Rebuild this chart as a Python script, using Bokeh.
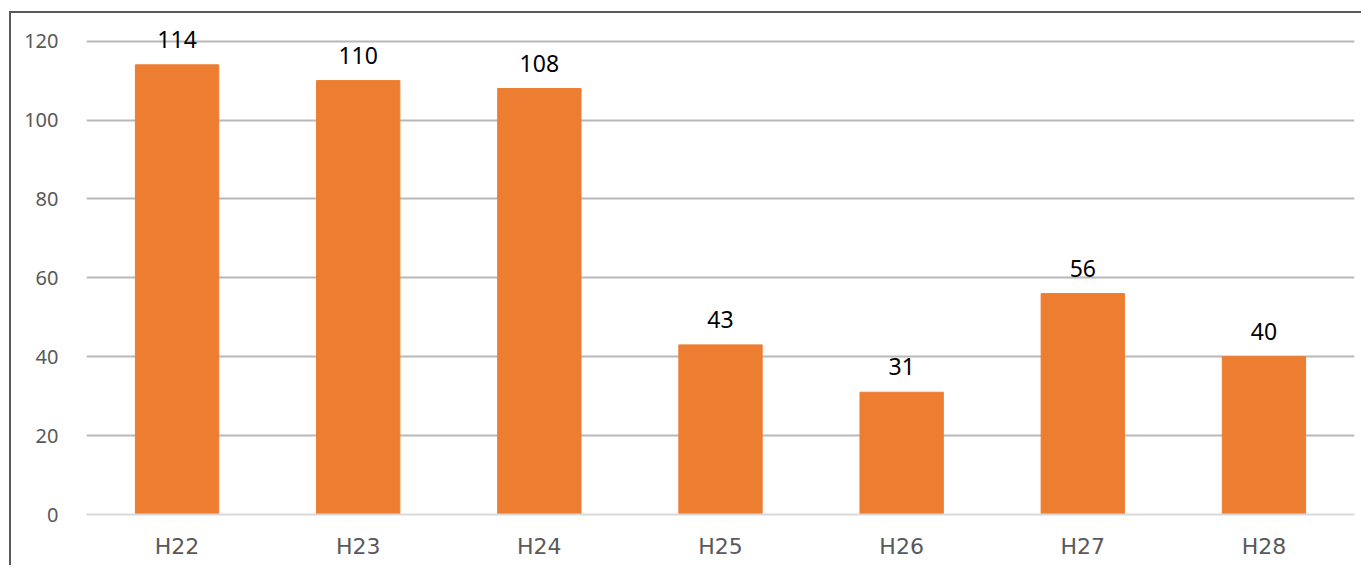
from bokeh.plotting import figure
from bokeh.models import ColumnDataSource, FixedTicker, Range1d, LabelSet
from bokeh.core.properties import value
from bokeh.embed import file_html
from bokeh.resources import INLINE

categories = ["H22", "H23", "H24", "H25", "H26", "H27", "H28"]
values = [114, 110, 108, 43, 31, 56, 40]
y_ticks = [0, 20, 40, 60, 80, 100, 120]

source = ColumnDataSource(data=dict(cat=categories, val=values, lbl=[str(v) for v in values]))

p = figure(x_range=categories, y_range=Range1d(0, 126), width=1352, height=554,
           output_backend="svg", toolbar_location=None,
           min_border_left=75, min_border_right=9, min_border_top=4, min_border_bottom=53)
p.styles = {"border-left": "2px solid #595959", "border-top": "2px solid #595959",
            "margin-left": "9px", "margin-top": "11px"}
p.outline_line_color = None
p.x_range.range_padding = 0

p.vbar(x="cat", top="val", width=0.46, source=source, color="#ED7D31")

labels = LabelSet(x="cat", y="val", text="lbl", source=source, text_align="center",
                  text_baseline="bottom", y_offset=17, text_font=value("Noto Sans"),
                  text_font_size=value("23px"), text_color="#000000")
p.add_layout(labels)

p.xgrid.grid_line_color = None
p.ygrid.ticker = FixedTicker(ticks=y_ticks[1:])
p.ygrid.grid_line_color = "#b8b8b8"
p.ygrid.grid_line_width = 2

p.yaxis.ticker = FixedTicker(ticks=y_ticks)
p.yaxis.axis_line_color = None
p.yaxis.major_tick_line_color = None
p.yaxis.minor_tick_line_color = None
p.yaxis.major_label_standoff = 22
p.yaxis.major_label_text_font = "Noto Sans"
p.yaxis.major_label_text_font_size = "20px"
p.yaxis.major_label_text_color = "#595959"

p.xaxis.axis_line_color = "#d9d9d9"
p.xaxis.axis_line_width = 2
p.xaxis.major_tick_line_color = None
p.xaxis.minor_tick_line_color = None
p.xaxis.major_label_standoff = 13
p.xaxis.major_label_text_font = "DejaVu Sans"
p.xaxis.major_label_text_font_size = "22px"
p.xaxis.major_label_text_color = "#595959"

open("out.html", "w").write(file_html(p, INLINE))
